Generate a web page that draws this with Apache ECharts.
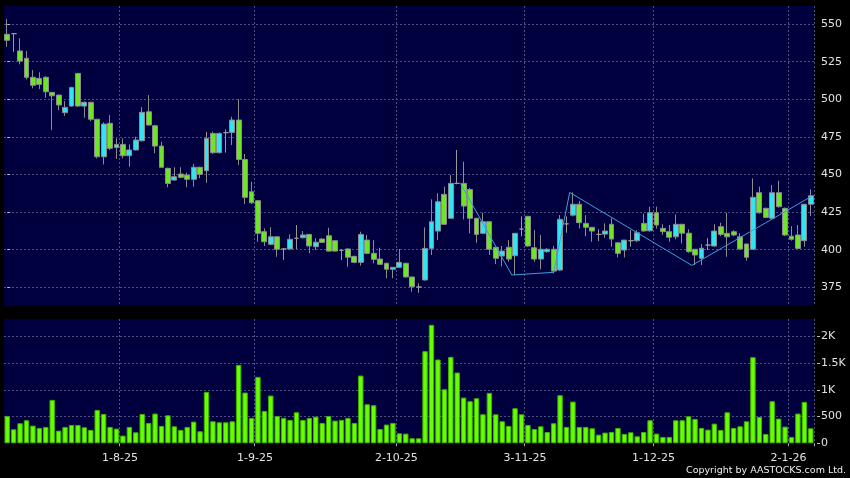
<!DOCTYPE html>
<html>
<head>
<meta charset="utf-8">
<title>Price chart</title>
<script src="https://cdn.jsdelivr.net/npm/echarts@6/dist/echarts.min.js"></script>
<style>
  html, body { margin: 0; padding: 0; background: #000; }
  #chart { width: 850px; height: 478px; }
</style>
</head>
<body>
<div id="chart"></div>
<script>
// trading days, HK holidays skipped
const firstDay = "2025-07-08";
const lastDay = "2026-01-07";
const holidays = ["2025-10-01", "2025-10-07", "2025-10-29", "2025-12-25", "2025-12-26", "2026-01-01"];
const labelDays = ["2025-08-01", "2025-09-01", "2025-10-02", "2025-11-03", "2025-12-01", "2026-01-02"];

const opens = [543.2, 543.6, 532.1, 527.2, 514.6, 513.9, 514.6, 504.6, 502.8, 491.1,
  495.5, 517.2, 495.5, 498.0, 486.7, 461.8, 484.0, 468.0, 470.0, 462.5,
  466.3, 472.4, 491.7, 482.4, 468.9, 454.1, 446.3, 450.3, 449.6, 446.8,
  454.8, 452.5, 477.3, 464.5, 477.8, 478.0, 486.2, 460.0, 438.5, 432.6,
  412.0, 403.6, 408.6, 400.5, 400.5, 407.6, 408.0, 410.2, 402.0, 407.1,
  409.3, 406.0, 399.6, 400.5, 395.6, 391.6, 406.4, 397.6, 393.8, 391.0,
  387.0, 388.3, 391.0, 381.9, 375.2, 379.9, 400.9, 412.4, 436.8, 420.9,
  444.1, 444.1, 440.0, 420.9, 410.9, 418.6, 401.6, 395.8, 401.6, 396.0,
  413.7, 422.2, 401.3, 393.8, 398.7, 400.3, 386.5, 417.2, 423.0, 430.2,
  417.5, 414.9, 410.2, 410.4, 416.9, 404.6, 399.8, 406.0, 406.0, 417.5,
  412.6, 424.6, 414.2, 412.0, 408.6, 416.9, 411.0, 400.3, 394.3, 403.1,
  402.5, 415.3, 410.9, 412.0, 408.6, 403.8, 400.3, 437.9, 427.5, 420.9,
  437.9, 427.5, 409.0, 409.8, 406.0, 430.2];
const closes = [539.2, 543.6, 525.4, 514.6, 509.3, 509.9, 505.0, 502.3, 496.2, 494.6,
  507.9, 495.5, 498.0, 486.7, 461.8, 483.5, 467.4, 470.0, 462.5, 466.3,
  472.9, 491.3, 482.9, 468.9, 454.8, 444.1, 448.5, 448.1, 446.8, 454.8,
  450.1, 474.0, 464.5, 477.3, 477.8, 486.2, 460.0, 434.8, 431.2, 410.9,
  405.3, 408.6, 400.3, 400.5, 406.9, 407.6, 409.8, 402.5, 405.0, 404.9,
  399.1, 399.1, 399.6, 395.0, 391.6, 410.2, 397.6, 393.6, 390.3, 387.0,
  388.3, 391.6, 381.9, 375.4, 375.2, 400.9, 418.6, 431.9, 416.9, 444.1,
  444.1, 429.0, 420.9, 410.2, 418.6, 400.3, 394.3, 399.1, 393.8, 410.9,
  413.7, 402.5, 393.8, 400.3, 400.3, 385.8, 420.2, 417.2, 430.2, 418.0,
  414.9, 412.4, 410.2, 412.4, 407.1, 397.6, 406.4, 406.0, 411.3, 412.5,
  424.6, 416.4, 412.0, 408.3, 416.9, 411.0, 398.7, 396.5, 401.0, 403.1,
  412.4, 410.2, 408.6, 409.8, 400.5, 395.0, 434.8, 424.6, 421.5, 437.9,
  428.6, 409.8, 406.9, 400.9, 430.2, 435.9];
const lows = [534.9, 531.6, 523.2, 513.2, 507.3, 506.8, 501.0, 479.5, 492.8, 488.9,
  495.0, 495.0, 487.7, 485.5, 460.7, 456.7, 466.3, 460.3, 460.7, 455.2,
  466.0, 472.0, 482.5, 464.1, 454.5, 441.5, 446.0, 447.5, 441.5, 441.9,
  447.5, 444.5, 463.6, 464.0, 464.5, 469.6, 456.3, 430.4, 430.4, 405.3,
  402.5, 403.0, 395.3, 393.2, 400.0, 400.5, 407.5, 397.6, 399.8, 404.5,
  398.8, 398.8, 393.2, 388.7, 391.0, 389.4, 397.0, 391.0, 390.0, 381.0,
  381.0, 388.0, 381.5, 372.1, 371.4, 379.5, 396.5, 406.4, 416.5, 420.5,
  443.5, 420.2, 410.9, 404.6, 410.5, 396.5, 390.5, 389.0, 392.0, 383.2,
  408.9, 402.0, 392.0, 387.0, 398.0, 384.3, 386.0, 411.3, 422.2, 414.2,
  408.9, 405.3, 405.7, 408.0, 402.0, 394.9, 394.9, 402.0, 405.0, 412.0,
  412.0, 414.0, 409.8, 405.3, 406.9, 404.2, 398.0, 389.8, 389.8, 399.8,
  402.0, 409.0, 395.3, 409.0, 400.0, 392.7, 400.0, 424.0, 421.0, 420.5,
  428.0, 409.0, 406.0, 400.5, 402.0, 422.4];
const highs = [553.3, 544.0, 540.5, 532.1, 519.4, 517.9, 515.4, 504.8, 503.0, 498.8,
  508.3, 517.5, 498.5, 498.3, 487.0, 484.7, 489.5, 474.0, 474.0, 470.0,
  475.1, 494.8, 502.8, 483.0, 471.8, 454.5, 454.8, 454.8, 451.2, 457.0,
  455.2, 478.4, 478.4, 478.0, 480.0, 488.4, 500.0, 463.6, 445.2, 433.0,
  414.2, 414.9, 409.0, 401.0, 410.2, 416.4, 412.4, 410.5, 407.6, 407.5,
  414.6, 406.4, 400.5, 401.0, 396.0, 412.0, 409.8, 406.4, 401.3, 391.3,
  388.5, 400.5, 391.3, 382.0, 377.7, 414.9, 433.5, 437.5, 441.9, 449.6,
  466.3, 458.5, 441.0, 421.0, 424.6, 419.0, 402.0, 402.5, 406.4, 411.0,
  422.2, 422.5, 413.0, 409.8, 401.0, 402.5, 423.0, 422.2, 438.1, 432.4,
  423.0, 415.0, 413.6, 417.5, 420.9, 405.0, 406.5, 413.0, 413.0, 424.0,
  428.6, 428.6, 417.0, 416.4, 423.5, 417.0, 413.6, 400.5, 403.8, 407.6,
  416.9, 417.9, 424.6, 413.0, 411.0, 404.0, 447.4, 441.9, 428.0, 443.0,
  445.9, 428.0, 415.7, 416.4, 430.5, 440.1];
const volumes = [512, 262, 375, 431, 331, 287, 306, 812, 237, 306,
  343, 343, 300, 250, 624, 549, 306, 275, 144, 306,
  206, 549, 381, 556, 325, 524, 318, 250, 306, 406,
  225, 961, 412, 393, 393, 412, 1467, 949, 474, 1242,
  606, 893, 512, 474, 437, 581, 437, 474, 499, 381,
  512, 425, 437, 474, 381, 1267, 730, 712, 268, 350,
  381, 187, 181, 94, 94, 1723, 2216, 1567, 1011, 1617,
  1324, 855, 787, 843, 543, 943, 543, 412, 325, 656,
  543, 343, 268, 318, 212, 375, 899, 306, 780, 306,
  306, 281, 162, 200, 212, 287, 175, 206, 131, 212,
  431, 181, 119, 119, 431, 431, 506, 456, 287, 256,
  368, 250, 581, 287, 318, 412, 1611, 493, 175, 787,
  462, 312, 119, 556, 774, 281];
// zigzag trend line: [day index, price]
const zigzag = [[70.5, 444.1], [78.5, 383.2], [85, 385.0], [87.5, 438.1], [106.5, 389.6], [125, 435.2]];

function tradingDays(from, to, skip) {
  const out = [];
  const d = new Date(from + "T00:00:00Z");
  const end = new Date(to + "T00:00:00Z");
  while (d <= end) {
    const s = d.toISOString().slice(0, 10);
    const wd = d.getUTCDay();
    if (wd !== 0 && wd !== 6 && skip.indexOf(s) < 0) out.push(s);
    d.setUTCDate(d.getUTCDate() + 1);
  }
  return out;
}

const days = tradingDays(firstDay, lastDay, holidays);
const candles = days.map((d, i) => [opens[i], closes[i], lows[i], highs[i]]);
const isLabelDay = (i) => labelDays.indexOf(days[i]) >= 0;
const shortDate = (s) => {
  const p = s.split("-");
  return +p[2] + "-" + +p[1] + "-" + p[0].slice(2);
};

const textColor = "#e2e2e2";
const gridLine = { color: "#505080", type: [2, 2], width: 1 };
const font = "DejaVu Sans";

const chart = echarts.init(document.getElementById("chart"));
chart.setOption({
  animation: false,
  backgroundColor: "#000",
  grid: [
    { left: 4, right: 36, top: 6, height: 300, show: true, backgroundColor: "#00003f", borderWidth: 0 },
    { left: 4, right: 36, top: 319, height: 124.3, show: true, backgroundColor: "#00003f", borderWidth: 0 }
  ],
  xAxis: [
    {
      type: "category", gridIndex: 0, data: days, boundaryGap: true,
      axisLine: { show: false }, axisTick: { show: false }, axisLabel: { show: false },
      splitLine: { show: true, interval: isLabelDay, lineStyle: gridLine }
    },
    {
      type: "category", gridIndex: 1, data: days, boundaryGap: true, offset: 3,
      axisLine: { show: false },
      axisTick: { show: true, interval: isLabelDay, length: 3, lineStyle: { color: "#aaa" } },
      axisLabel: {
        interval: isLabelDay, formatter: shortDate, color: textColor,
        fontFamily: font, fontSize: 11, margin: 6, padding: [0, 6, 0, 0]
      },
      splitLine: { show: true, interval: isLabelDay, lineStyle: gridLine }
    },
    { type: "value", gridIndex: 0, min: -0.5, max: 125.5, show: false }
  ],
  yAxis: [
    {
      type: "value", gridIndex: 0, position: "right", offset: 3,
      min: 362.6, max: 562, minInterval: 25, maxInterval: 25, splitNumber: 8,
      axisLine: { show: false },
      axisTick: { show: true, length: 3, lineStyle: { color: "#bbb" } },
      axisLabel: { color: textColor, fontFamily: font, fontSize: 11, margin: 4, showMinLabel: false, showMaxLabel: false },
      splitLine: { show: true, showMinLine: false, showMaxLine: false, lineStyle: gridLine }
    },
    {
      type: "value", gridIndex: 1, position: "right", offset: 3,
      min: 0, max: 2325, interval: 500,
      axisLine: { show: false },
      axisTick: { show: true, length: 3, lineStyle: { color: "#bbb" } },
      axisLabel: {
        color: textColor, fontFamily: font, fontSize: 11, margin: 4, showMaxLabel: false,
        formatter: (v) => (v >= 1000 ? v / 1000 + "K" : v)
      },
      splitLine: { show: true, showMinLine: false, showMaxLine: false, lineStyle: gridLine }
    }
  ],
  series: [
    {
      type: "candlestick", xAxisIndex: 0, yAxisIndex: 0, data: candles, barWidth: "84%",
      itemStyle: {
        color: "#33e4f0", color0: "#6fe52a",
        borderColor: "#8c8c8c", borderColor0: "#8c8c8c", borderColorDoji: "#9a9a9a", borderWidth: 1
      }
    },
    {
      type: "line", xAxisIndex: 2, yAxisIndex: 0, data: zigzag, symbol: "none", z: 5,
      lineStyle: { color: "#3c9ee0", width: 1 }
    },
    {
      type: "bar", xAxisIndex: 1, yAxisIndex: 1, data: volumes, barWidth: "84%",
      itemStyle: { color: "#66ff00", borderColor: "#40b000", borderWidth: 1 }
    }
  ],
  graphic: [
    {
      type: "text", right: 4, bottom: 2,
      style: { text: "Copyright by AASTOCKS.com Ltd.", fill: "#f0f0f0", font: '9.5px "DejaVu Sans"' }
    }
  ]
});
</script>
</body>
</html>
